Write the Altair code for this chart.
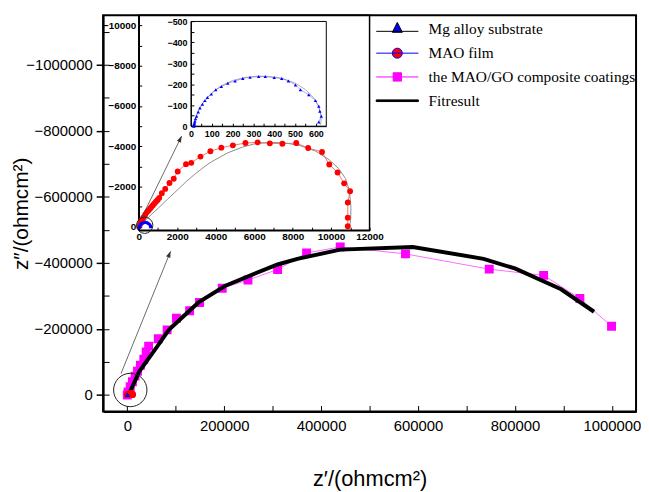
import altair as alt
import pandas as pd

# ---------------- data ----------------
# MAO/GO composite coatings (main plot)
go_x = [0, 1500, 6000, 10500, 16000, 21000, 27000, 34000, 39000, 44000, 63900, 82200,
        101400, 128600, 149000, 195900, 249000, 310200, 370000, 439400, 574100, 747000,
        859200, 934100, 999400]
go_y = [0, -9000, -25000, -40000, -57000, -72000, -90000, -108000, -130000, -148000,
        -170100, -197100, -232200, -255000, -280200, -323100, -348000, -380100, -430200,
        -448200, -427200, -381000, -362100, -292200, -208200]
# Fit result (main plot)
fit_x = [2700, 24500, 58600, 85700, 146900, 201400, 255700, 310200, 351000, 439400,
         589200, 735300, 800000, 895300, 963300]
fit_y = [0, -71100, -140100, -197100, -280200, -330000, -363000, -395100, -412200,
         -440100, -448200, -412200, -383100, -320100, -252000]
# MAO film
mao_x = [30, 70, 100, 139, 200, 258, 340, 427, 500, 582, 650, 721, 800, 891, 980, 1066,
         1200, 1375, 1597, 1818, 2024, 2456, 2730, 3209, 3724, 4291, 4893, 5547, 6180,
         6814, 7468, 8189, 8807, 9528, 9905, 10337, 10678, 10987, 10867, 10867, 10867]
mao_y = [-60, -150, -220, -329, -410, -491, -620, -737, -820, -904, -985, -1066, -1150,
         -1248, -1340, -1445, -1671, -1887, -2182, -2393, -2752, -3115, -3179, -3489,
         -3754, -3931, -4049, -4162, -4196, -4147, -4128, -4162, -3916, -3720, -3096,
         -2703, -2162, -1769, -1214, -462, -34]
# MAO film fit (grey)
maofit_x = [0, 500, 1030, 1500, 2060, 2500, 2918, 3400, 3777, 4635, 5400, 6009, 6800,
            7600, 8400, 9200, 9900, 10386, 10750, 10950, 11030, 11020, 10960]
maofit_y = [0, -480, -950, -1380, -1880, -2280, -2620, -2980, -3230, -3680, -3960, -4120,
            -4200, -4170, -4030, -3760, -3330, -2900, -2400, -1800, -1000, -400, 0]
# Mg alloy substrate
mg_x = [14, 15, 16, 17, 19, 22, 27, 35, 43, 55, 67, 79, 98, 119, 146, 177, 212, 249, 284,
        325, 357, 400, 436, 468, 502, 526, 566, 598, 614, 619, 626, 614]
mg_y = [0, -5, -10, -15, -24, -35, -47, -68, -87, -105, -122, -137, -153, -174, -189,
        -205, -216, -228, -233, -237, -237, -232, -228, -216, -197, -174, -150, -122,
        -95, -71, -47, -20]
# Mg alloy fit (grey)
mgfit_x = [14, 18, 25, 38, 55, 80, 110, 150, 200, 260, 320, 380, 440, 500, 550, 590, 615,
           626, 624, 620]
mgfit_y = [0, -25, -50, -80, -108, -138, -168, -195, -218, -233, -239, -237, -228, -206,
           -175, -135, -90, -45, -15, -5]

series = ["Mg alloy substrate", "MAO film", "the MAO/GO composite coatings", "Fitresult"]

# ticks
main_x_major = [0, 200000, 400000, 600000, 800000, 1000000]
main_x_minor = [100000, 300000, 500000, 700000, 900000]
main_y_major = [-1000000, -800000, -600000, -400000, -200000, 0]
main_y_minor = [-1100000, -900000, -700000, -500000, -300000, -100000]
ins1_x_major = [0, 2000, 4000, 6000, 8000, 10000, 12000]
ins1_x_minor = [1000, 3000, 5000, 7000, 9000, 11000]
ins1_y_major = [-10000, -8000, -6000, -4000, -2000, 0]
ins1_y_minor = [-9000, -7000, -5000, -3000, -1000]
ins2_x_major = [0, 100, 200, 300, 400, 500, 600]
ins2_x_minor = [50, 150, 250, 350, 450, 550]
ins2_y_major = [-500, -400, -300, -200, -100, 0]
ins2_y_minor = [-450, -350, -250, -150, -50]

# zoom annotations (data coordinates of the panel they sit in)
circ_main_x, circ_main_y = [6100], [-15000]
arrow_main_x, arrow_main_y = [-12900, 89200], [-65100, -435000]
circ_ins1_x, circ_ins1_y = [309], [-84]
arrow_ins1_x, arrow_ins1_y = [170, 2230], [-491, -4506]

# panel domains
main_xdom, main_ydom = [-50000, 1050000], [-1150000, 50000]
ins1_xdom, ins1_ydom = [0, 12000], [-10500, 160]
ins2_xdom, ins2_ydom = [0, 650], [-500, 0]

# ---------------- layout ----------------
W, H = 538, 400
FONT = "Liberation Sans"
SERIF = "Liberation Serif"
ARROW = "M0,0L0.36,1L-0.36,1Z"


def df(xs, ys):
    return pd.DataFrame({"x": xs, "y": ys, "i": list(range(len(xs)))})


def sc(dom, rng):
    return alt.Scale(domain=dom, range=rng, nice=False, zero=False)


def enc(ch, sx, sy, ax=None, ay=None):
    return ch.encode(x=alt.X("x:Q", scale=sx, axis=ax), y=alt.Y("y:Q", scale=sy, axis=ay))


def line(d, sx, sy, color, w, ax=None, ay=None):
    c = alt.Chart(d).mark_line(color=color, strokeWidth=w, clip=True)
    return c.encode(x=alt.X("x:Q", scale=sx, axis=ax), y=alt.Y("y:Q", scale=sy, axis=ay),
                    order="i:Q")


def pts(d, sx, sy, shape, color, size, ax=None, ay=None):
    c = alt.Chart(d).mark_point(shape=shape, filled=True, color=color, size=size,
                                opacity=1, strokeWidth=0, clip=True)
    return enc(c, sx, sy, ax, ay)


def ring(xs, ys, sx, sy, size):
    c = alt.Chart(df(xs, ys)).mark_point(shape="circle", filled=False, color="#222222",
                                          strokeWidth=1, size=size, opacity=1, clip=True)
    return enc(c, sx, sy)


def arrow(xs, ys, sx, sy, ang):
    ln = line(df(xs, ys), sx, sy, "#444444", 0.8)
    hd = alt.Chart(df(xs[-1:], ys[-1:])).mark_point(shape=ARROW, filled=True, color="#333333",
                                                    size=160, angle=ang, opacity=1,
                                                    strokeWidth=0, clip=True)
    return [ln, enc(hd, sx, sy)]


def inward_axes(xvals, yvals, left_px, bottom_px, tsize):
    ax = alt.Axis(orient="top", offset=-bottom_px, values=xvals, labels=False, domain=False,
                  tickSize=tsize, tickWidth=1, title=None, grid=False)
    ay = alt.Axis(orient="right", offset=-(W - left_px), values=yvals, labels=False,
                  domain=False, tickSize=tsize, tickWidth=1, title=None, grid=False)
    return ax, ay


# ---------------- main panel ----------------
sxm, sym = sc(main_xdom, [0, W]), sc(main_ydom, [0, H])
ax_main_x = alt.Axis(orient="bottom", values=main_x_major, format="d", ticks=False,
                     labelPadding=7, labelFontSize=15, domainWidth=2, labelOverlap=False,
                     labelFlush=False,
                     title="z′/(ohmcm²)", titleFontSize=22, titleFontWeight="normal",
                     titleY=75, titleBaseline="alphabetic", grid=False)
ax_main_y = alt.Axis(orient="left", values=main_y_major, format="d", tickSize=7,
                     tickWidth=1.5, labelPadding=4, labelFontSize=15, domainWidth=2,
                     labelOverlap=False, labelFlush=False,
                     title="z″/(ohmcm²)", titleFontSize=21, titleFontWeight="normal",
                     titleX=-76, titleBaseline="alphabetic", grid=False)

main_layers = [
    line(df(go_x, go_y), sxm, sym, "#ff44ff", 0.8, ax_main_x, ax_main_y),
    pts(df(go_x, go_y), sxm, sym, "square", "#ff00ff", 81),
    line(df(fit_x, fit_y), sxm, sym, "black", 4),
    pts(df(mao_x, mao_y), sxm, sym, "circle", "#ff0000", 40),
    pts(df(mg_x, mg_y), sxm, sym, "triangle-up", "#0000ff", 14),
    ring(circ_main_x, circ_main_y, sxm, sym, 1134),
    *arrow(arrow_main_x, arrow_main_y, sxm, sym, 22),
]

leg = alt.Legend(orient="none", legendX=272.5, legendY=4.3, title=None, labelFont=SERIF,
                 labelFontSize=15.5, labelColor="black", labelLimit=400, symbolSize=784,
                 symbolStrokeWidth=1, symbolOffset=10, labelOffset=17, rowPadding=4,
                 clipHeight=20, padding=0)
legend_paths = [
    "M-1.52,0.14H1.52M0,-0.5L0.36,0.21L-0.36,0.21Z",
    "M-1.52,0H1.52M0.36,0A0.36,0.36 0 1,1 -0.36,0A0.36,0.36 0 1,1 0.36,0Z",
    "M-1.52,0H1.52M-0.3,-0.3H0.3V0.3H-0.3Z",
    "M-1.52,-0.06H1.52V0.06H-1.52Z",
]
legend_fill = ["#0000ff", "#ff0000", "#ff00ff", "#000000"]
legend_stroke = ["#000000", "#0000ff", "#ff00ff", "#000000"]
ldf = pd.DataFrame({"series": series, "x": [2e6] * 4, "y": [0] * 4})
tax, tay = inward_axes(main_x_major + main_x_minor, main_y_major + main_y_minor, 0, H, 6)
legend_layer = alt.Chart(ldf).mark_point(filled=True, opacity=1, strokeWidth=1, clip=True).encode(
    x=alt.X("x:Q", scale=sxm, axis=tax),
    y=alt.Y("y:Q", scale=sym, axis=tay),
    shape=alt.Shape("series:N", scale=alt.Scale(domain=series, range=legend_paths), legend=leg),
    fill=alt.Fill("series:N", scale=alt.Scale(domain=series, range=legend_fill), legend=leg),
    stroke=alt.Stroke("series:N", scale=alt.Scale(domain=series, range=legend_stroke), legend=leg),
)

# ---------------- inset 1 (MAO film) ----------------
i1_left, i1_right, i1_top, i1_bottom = 36, 269, 0, 217
sx1, sy1 = sc(ins1_xdom, [i1_left, i1_right]), sc(ins1_ydom, [i1_top, i1_bottom])
ax1x = alt.Axis(orient="bottom", offset=-(H - i1_bottom), values=ins1_x_major, format="d",
                ticks=False, labelPadding=1, labelFontSize=10, labelFontWeight="bold",
                labelOverlap=False, labelFlush=False, domainWidth=1.5, title=None, grid=False)
ax1y = alt.Axis(orient="left", offset=-i1_left, values=ins1_y_major, format="d",
                ticks=False, labelPadding=3, labelFontSize=10, labelFontWeight="bold",
                labelOverlap=False, labelFlush=False, domainWidth=1.5, title=None, grid=False)
f1 = pd.DataFrame({"x": [ins1_xdom[0]], "x2": [ins1_xdom[1]], "y": [ins1_ydom[0]], "y2": [ins1_ydom[1]]})
t1x, t1y = inward_axes(ins1_x_major + ins1_x_minor, ins1_y_major + ins1_y_minor, i1_left, i1_bottom, 3)
frame1 = alt.Chart(f1).mark_rect(fill="transparent", stroke="black", strokeWidth=1.5).encode(
    x=alt.X("x:Q", scale=sx1, axis=t1x), x2="x2:Q",
    y=alt.Y("y:Q", scale=sy1, axis=t1y), y2="y2:Q",
)
ins1_layers = [
    frame1,
    line(df(mao_x, mao_y), sx1, sy1, "#ff7070", 1, ax1x, ax1y),
    line(df(maofit_x, maofit_y), sx1, sy1, "#8c8c8c", 1),
    pts(df(mao_x, mao_y), sx1, sy1, "circle", "#ff0000", 35),
    line(df(mg_x, mg_y), sx1, sy1, "#0000ff", 1),
    pts(df(mg_x, mg_y), sx1, sy1, "triangle-up", "#0000ff", 14),
    ring(circ_ins1_x, circ_ins1_y, sx1, sy1, 272),
    *arrow(arrow_ins1_x, arrow_ins1_y, sx1, sy1, 26),
]

# ---------------- inset 2 (Mg alloy) ----------------
i2_left, i2_right, i2_top, i2_bottom = 88.7, 225.3, 6.3, 112
sx2, sy2 = sc(ins2_xdom, [i2_left, i2_right]), sc(ins2_ydom, [i2_top, i2_bottom])
ax2x = alt.Axis(orient="bottom", offset=-(H - i2_bottom), values=ins2_x_major, format="d",
                ticks=False, labelPadding=3, labelFontSize=9, labelFontWeight="bold",
                labelOverlap=False, labelFlush=False, domainWidth=1, title=None, grid=False)
ax2y = alt.Axis(orient="left", offset=-i2_left, values=ins2_y_major, format="d",
                ticks=False, labelPadding=4, labelFontSize=9, labelFontWeight="bold",
                labelOverlap=False, labelFlush=False, domainWidth=1, title=None, grid=False)
f2 = pd.DataFrame({"x": [ins2_xdom[0]], "x2": [ins2_xdom[1]], "y": [ins2_ydom[0]], "y2": [ins2_ydom[1]]})
t2x, t2y = inward_axes(ins2_x_major + ins2_x_minor, ins2_y_major + ins2_y_minor, i2_left, i2_bottom, 3)
frame2 = alt.Chart(f2).mark_rect(fill="transparent", stroke="black", strokeWidth=1).encode(
    x=alt.X("x:Q", scale=sx2, axis=t2x), x2="x2:Q",
    y=alt.Y("y:Q", scale=sy2, axis=t2y), y2="y2:Q",
)
ins2_layers = [
    frame2,
    line(df(mgfit_x, mgfit_y), sx2, sy2, "#b0b0b0", 1, ax2x, ax2y),
    line(df(mg_x, mg_y), sx2, sy2, "#6f6fff", 0.6),
    pts(df(mg_x, mg_y), sx2, sy2, "triangle-up", "#0000ff", 12),
]

chart = (
    alt.layer(*main_layers, legend_layer, *ins1_layers, *ins2_layers)
    .resolve_scale(x="independent", y="independent")
    .resolve_axis(x="independent", y="independent")
    .properties(width=W, height=H, autosize=alt.AutoSizeParams(type="none"),
                padding={"left": 96, "top": 5, "right": 5, "bottom": 79})
    .configure_view(stroke="black", strokeWidth=2)
    .configure_axis(labelFont=FONT, titleFont=FONT, labelColor="black", titleColor="black",
                    tickColor="black", domainColor="black", grid=False)
)

chart.save("out.html", embed_options={"renderer": "svg", "actions": False})
